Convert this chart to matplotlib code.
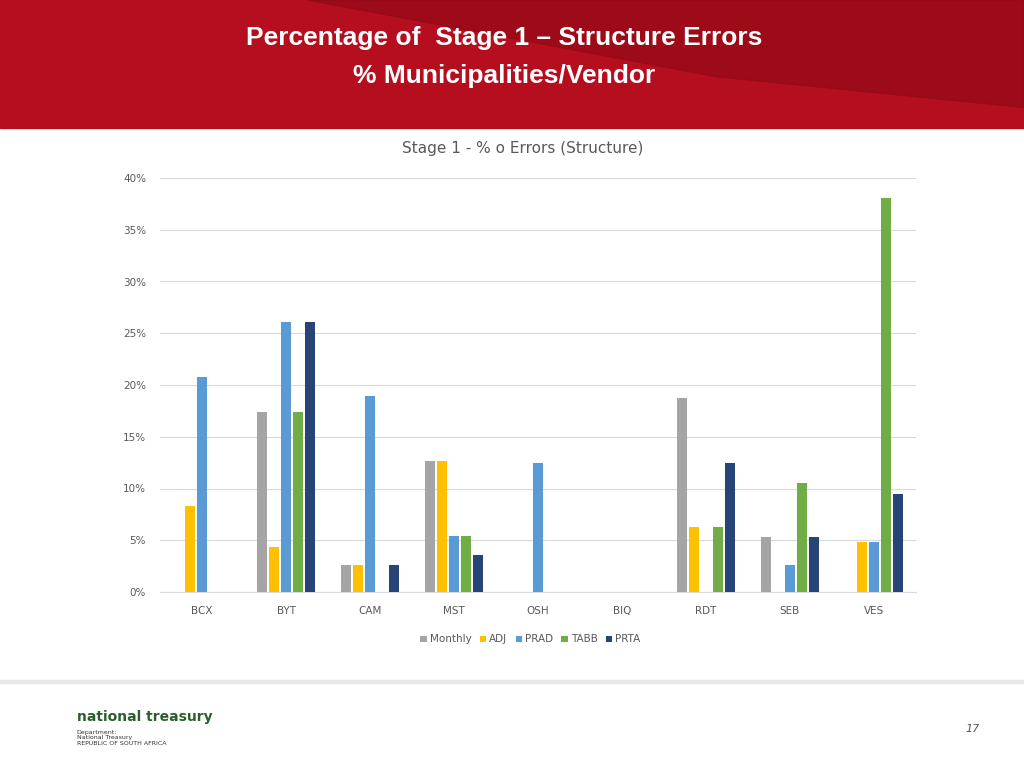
import matplotlib
matplotlib.use("Agg")
import matplotlib.pyplot as plt
import numpy as np
from matplotlib.patches import Rectangle, Polygon

categories = ["BCX", "BYT", "CAM", "MST", "OSH", "BIQ", "RDT", "SEB", "VES"]
series_names = ["Monthly", "ADJ", "PRAD", "TABB", "PRTA"]
monthly = [0, 17.4, 2.6, 12.7, 0, 0, 18.75, 5.3, 0]
adj = [8.3, 4.3, 2.6, 12.7, 0, 0, 6.25, 0, 4.8]
prad = [20.8, 26.1, 18.9, 5.4, 12.5, 0, 0, 2.6, 4.8]
tabb = [0, 17.4, 0, 5.4, 0, 0, 6.25, 10.5, 38.1]
prta = [0, 26.1, 2.6, 3.6, 0, 0, 12.5, 5.3, 9.5]
colors = ["#A5A5A5", "#FFC000", "#5B9BD5", "#70AD47", "#264478"]

fig = plt.figure(figsize=(10.24, 7.68), dpi=100)
bg = fig.add_axes([0, 0, 1, 1]); bg.set_xlim(0, 1); bg.set_ylim(0, 1); bg.axis("off")
bg.add_patch(Rectangle((0, 1 - 128/768), 1, 128/768, color="#B50E1E"))
bg.add_patch(Polygon([[0.3, 1], [1, 1], [1, 0.86], [0.7, 0.9]], color="#8E0A16", alpha=0.6))
bg.add_patch(Rectangle((0, 0), 1, 85/768, color="#FFFFFF"))
bg.add_patch(Rectangle((0, 85/768), 1, 3/768, color="#E8E8E8"))
fig.text(0.492, 1 - 38/768, "Percentage of  Stage 1 \u2013 Structure Errors", color="white",
         fontsize=19, fontweight="bold", ha="center", va="center", family="Liberation Sans")
fig.text(0.492, 1 - 76/768, "% Municipalities/Vendor", color="white",
         fontsize=19, fontweight="bold", ha="center", va="center", family="Liberation Sans")
fig.text(0.075, 1 - 717/768, "national treasury", color="#2B5E2B", fontsize=10, fontweight="bold", va="center")
fig.text(0.075, 1 - 738/768, "Department:\nNational Treasury\nREPUBLIC OF SOUTH AFRICA", color="#333333", fontsize=4.5, va="center")
fig.text(0.95, 1 - 729/768, "17", color="#555555", fontsize=8, style="italic", ha="center", va="center")

ax = fig.add_axes([160/1024, 1 - 592/768, 756/1024, 414/768])
x = np.arange(len(categories))
w = 0.143
for i, (name, vals) in enumerate(zip(series_names, [monthly, adj, prad, tabb, prta])):
    ax.bar(x + (i - 2) * w, vals, width=w * 0.88, color=colors[i], label=name, zorder=3)
ax.set_xlim(-0.5, len(categories) - 0.5)
ax.set_ylim(0, 40)
ax.set_yticks(range(0, 41, 5))
ax.set_yticklabels([f"{v}%" for v in range(0, 41, 5)])
ax.set_xticks(x); ax.set_xticklabels(categories)
ax.grid(axis="y", color="#D9D9D9", lw=0.8, zorder=0)
for s in ["top", "right", "left"]:
    ax.spines[s].set_visible(False)
ax.spines["bottom"].set_color("#D9D9D9")
ax.tick_params(length=0, labelsize=7.5, colors="#595959", pad=10)
ax.set_title("Stage 1 - % o Errors (Structure)", fontsize=11, color="#595959", pad=18, x=0.48)
ax.legend(loc="upper center", bbox_to_anchor=(0.49, -0.08), ncol=5, frameon=False,
          fontsize=7.5, handlelength=0.6, handleheight=0.6, columnspacing=0.8, handletextpad=0.3,
          labelcolor="#595959")
fig.savefig("out.png", dpi=100)
